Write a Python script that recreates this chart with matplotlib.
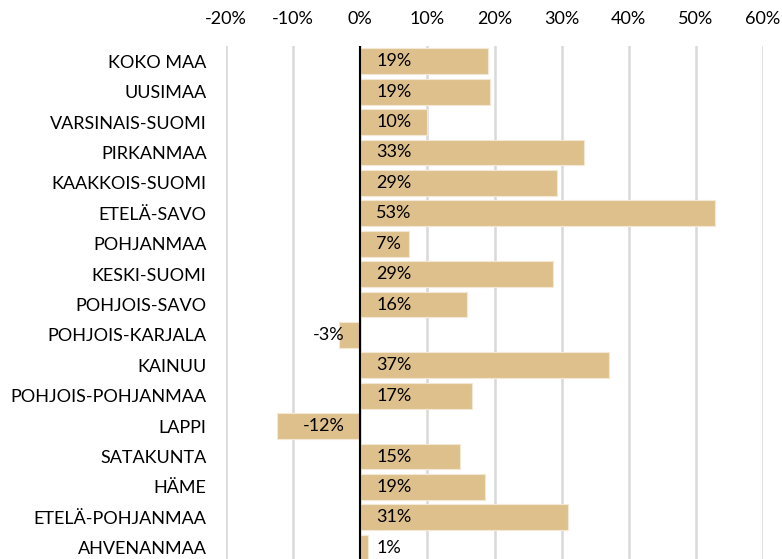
import matplotlib
matplotlib.use("Agg")
import matplotlib.pyplot as plt
from matplotlib.ticker import FuncFormatter

regions = ["KOKO MAA", "UUSIMAA", "VARSINAIS-SUOMI", "PIRKANMAA", "KAAKKOIS-SUOMI",
           "ETELÄ-SAVO", "POHJANMAA", "KESKI-SUOMI", "POHJOIS-SAVO", "POHJOIS-KARJALA",
           "KAINUU", "POHJOIS-POHJANMAA", "LAPPI", "SATAKUNTA", "HÄME",
           "ETELÄ-POHJANMAA", "AHVENANMAA"]
values = [19.0, 19.4, 10.0, 33.4, 29.3, 52.9, 7.3, 28.7, 15.9, -3.1,
          37.0, 16.7, -12.4, 14.8, 18.6, 31.0, 1.2]
xticks = [-20, -10, 0, 10, 20, 30, 40, 50, 60]

plt.rcParams['font.family'] = ['Lato', 'DejaVu Sans']
FS = 13

fig = plt.figure(figsize=(7.82, 5.59), dpi=100)
ax = fig.add_axes([226/782, -4/559, (763-226)/782, (563-46)/559])

pos = list(range(len(regions)))
ax.barh(pos, values, height=0.85, color="#DDC08C", edgecolor="#F3E8D3", linewidth=0.8, zorder=2)
ax.set_ylim(len(regions) - 0.5, -0.5)
ax.set_xlim(-20, 60)
ax.set_xticks(xticks)
ax.xaxis.set_major_formatter(FuncFormatter(lambda v, p: f"{v:.0f}%"))
ax.xaxis.tick_top()
ax.tick_params(axis='x', length=0, pad=14, labelsize=FS, colors="#000000")
ax.set_yticks(pos)
ax.set_yticklabels(regions)
ax.tick_params(axis='y', length=0, pad=14, labelsize=FS, colors="#000000")
ax.grid(axis='x', color="#D9D9D9", linewidth=1.8, zorder=0)
ax.set_axisbelow(True)
for s in ax.spines.values():
    s.set_visible(False)
ax.axvline(0, color="black", linewidth=1.5, zorder=3)

for p, v in zip(pos, values):
    lab = f"{round(v):.0f}%"
    if v >= 0:
        ax.annotate(lab, (0, p), xytext=(11.5, 0), textcoords="offset points",
                    ha="left", va="center", fontsize=FS, zorder=4)
    else:
        ax.annotate(lab, (0, p), xytext=(-11.5, 0), textcoords="offset points",
                    ha="right", va="center", fontsize=FS, zorder=4)

fig.savefig("out.png", dpi=100)
